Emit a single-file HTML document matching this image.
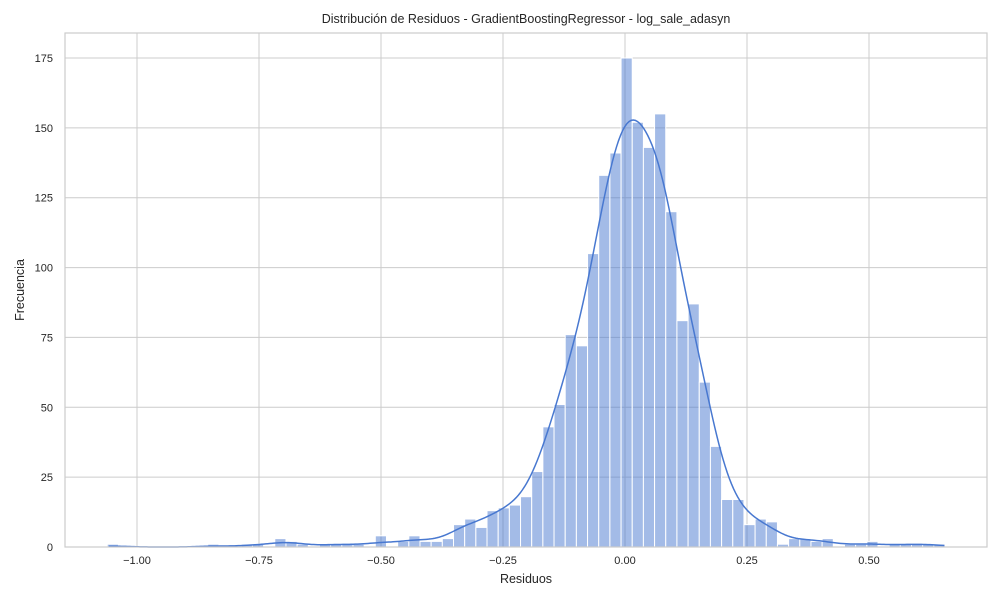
<!DOCTYPE html>
<html><head><meta charset="utf-8"><style>
html,body{margin:0;padding:0;background:#fff;}
svg text{font-family:"Liberation Sans",Arial,sans-serif;fill:#262626;}
</style></head><body>
<svg id="chart" width="1000" height="600" viewBox="0 0 1000 600">
<rect x="0" y="0" width="1000" height="600" fill="#fff"/>
<text x="526" y="23" text-anchor="middle" font-size="12.5">Distribución de Residuos - GradientBoostingRegressor - log_sale_adasyn</text>
<g id="grid"></g><g id="bars"></g><g id="kde"></g><g id="axes"></g>
<text x="526" y="583" text-anchor="middle" font-size="12.5">Residuos</text>
<text transform="translate(24,290) rotate(-90)" text-anchor="middle" font-size="12.5">Frecuencia</text>
</svg>
<script>
const binStart = -1.061;
const binWidth = 0.02289;
const counts = [1,0,0,0,0,0,0,0,0,1,0,0,1,1,0,3,2,1,0,1,1,1,1,0,4,0,2,4,2,2,3,8,10,7,13,14,15,18,27,43,51,76,72,105,133,141,175,152,143,155,120,81,87,59,36,17,17,8,10,9,1,3,3,2,3,0,1,1,2,0,1,1,1,1,1];
const xTicks = [-1.00,-0.75,-0.50,-0.25,0.00,0.25,0.50];
const xTickLabels = ["−1.00","−0.75","−0.50","−0.25","0.00","0.25","0.50"];
const yTicks = [0,25,50,75,100,125,150,175];
const bandwidth = 0.032;

const L=65,R=987,T=33,B=547;
const xs = v => 625 + v*488;
const ys = v => B - v*(489/175);
const NS="http://www.w3.org/2000/svg";
function mk(tag,attrs,parent){const e=document.createElementNS(NS,tag);for(const k in attrs)e.setAttribute(k,attrs[k]);parent.appendChild(e);return e;}
const grid=document.getElementById('grid'),bars=document.getElementById('bars'),kde=document.getElementById('kde'),axes=document.getElementById('axes');

xTicks.forEach((t,i)=>{
  const g=mk('line',{x1:xs(t),x2:xs(t),y1:T,y2:B,stroke:'#cccccc','stroke-width':1},grid);
  
  
  const tx=mk('text',{x:xs(t),y:B+17,'text-anchor':'middle','font-size':11},axes);
  tx.textContent=xTickLabels[i];
  
  
});
yTicks.forEach(t=>{
  const g=mk('line',{x1:L,x2:R,y1:ys(t),y2:ys(t),stroke:'#cccccc','stroke-width':1},grid);
  
  
  const tx=mk('text',{x:L-12,y:ys(t)+4,'text-anchor':'end','font-size':11},axes);
  tx.textContent=String(t);
  
  
});
counts.forEach((c,i)=>{
  if(c<=0)return;
  const x0=xs(binStart+i*binWidth), x1=xs(binStart+(i+1)*binWidth);
  const r=mk('rect',{x:x0,y:ys(c),width:x1-x0,height:ys(0)-ys(c),fill:'rgba(72,120,208,0.5)',stroke:'#fff','stroke-width':1},bars);
  
  
});
const n=counts.reduce((a,b)=>a+b,0);
let lo=0,hi=counts.length-1; while(counts[lo]===0)lo++; while(counts[hi]===0)hi--;
const xmin=binStart+lo*binWidth+binWidth*0.15, xmax=binStart+(hi+1)*binWidth-binWidth*0.05;
let d='';
for(let k=0;k<=400;k++){
  const x=xmin+(xmax-xmin)*k/400;
  let s=0;
  counts.forEach((c,i)=>{if(!c)return;const cx=binStart+(i+0.5)*binWidth;const z=(x-cx)/bandwidth;s+=c*Math.exp(-0.5*z*z);});
  const dens=s/(n*bandwidth*Math.sqrt(2*Math.PI));
  const y=dens*n*binWidth;
  d+=(k?'L':'M')+xs(x).toFixed(2)+','+ys(y).toFixed(2);
}
const p=mk('path',{d:d,fill:'none',stroke:'#4878d0','stroke-width':1.5},kde);


const fr=mk('rect',{x:L,y:T,width:R-L,height:B-T,fill:'none',stroke:'#cccccc','stroke-width':1.2},axes);


</script>
</body></html>
